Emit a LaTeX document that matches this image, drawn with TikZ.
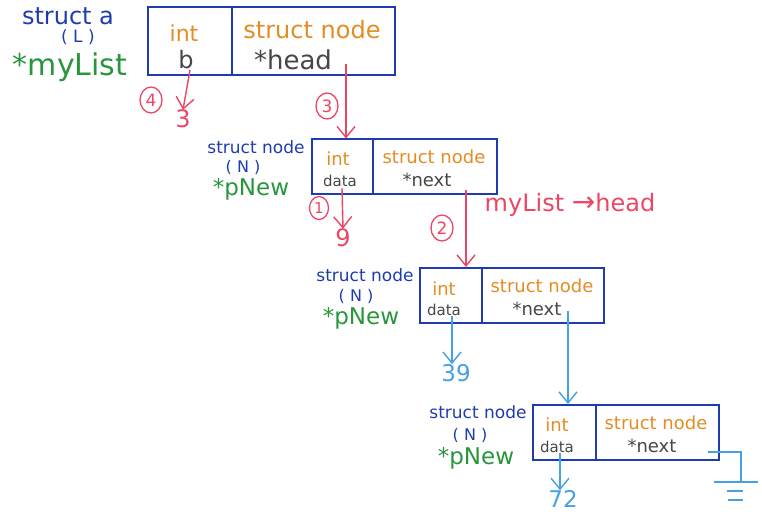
\documentclass[tikz,border=0pt]{standalone}
\usepackage{fontspec}
\setmainfont{DejaVu Sans}
\usetikzlibrary{arrows.meta,shapes.geometric}
\definecolor{boxblue}{RGB}{30,60,175}
\definecolor{typeorange}{RGB}{228,140,35}
\definecolor{namegray}{RGB}{70,70,70}
\definecolor{vargreen}{RGB}{40,150,60}
\definecolor{stepred}{RGB}{236,70,100}
\definecolor{valblue}{RGB}{70,160,230}
\tikzset{
  cell/.style={draw=boxblue, line width=2pt, inner sep=0pt},
  typetxt/.style={text=typeorange, inner sep=0pt},
  nametxt/.style={text=namegray, inner sep=0pt},
  labtxt/.style={text=boxblue, inner sep=0pt},
  vartxt/.style={text=vargreen, inner sep=0pt},
  redtxt/.style={text=stepred, inner sep=0pt},
  bluetxt/.style={text=valblue, inner sep=0pt},
  stepnum/.style={draw=stepred, text=stepred, ellipse, line width=1.3pt, inner sep=0pt, minimum width=22pt, minimum height=26pt, font=\fontsize{17}{17}\selectfont},
  redarrow/.style={draw=stepred, line width=1.4pt, -{Straight Barb[length=11pt,width=18pt]}},
  bluearrow/.style={draw=valblue, line width=1.4pt, -{Straight Barb[length=11pt,width=18pt]}},
  groundline/.style={draw=valblue, line width=1.4pt},
}
\begin{document}
\begin{tikzpicture}[x=1pt,y=-1pt]
\useasboundingbox (0,0) rectangle (762,521);
% ---------- box 1: struct a
\node[cell, minimum width=84pt, minimum height=68pt] (b1l) at (190,41) {};
\node[cell, minimum width=163pt, minimum height=68pt] (b1r) at (313.5,41) {};
\node[typetxt, font=\fontsize{22}{22}\selectfont] (t1a) at (184,33) {int};
\node[nametxt, font=\fontsize{24}{24}\selectfont] (n1a) at (186,60) {b};
\node[typetxt, font=\fontsize{24}{24}\selectfont] (t1b) at (312,30) {struct node};
\node[nametxt, font=\fontsize{26}{26}\selectfont] (n1b) at (293,60) {*head};
\node[labtxt, font=\fontsize{24}{24}\selectfont] (l1a) at (68,16) {struct a};
\node[labtxt, font=\fontsize{17}{17}\selectfont] (l1b) at (78,37) {( L )};
\node[vartxt, font=\fontsize{30}{30}\selectfont] (l1c) at (70,67) {*myList};
% ---------- box 2
\node[cell, minimum width=61pt, minimum height=55pt] (b2l) at (342.5,167) {};
\node[cell, minimum width=124pt, minimum height=55pt] (b2r) at (435,167) {};
\node[typetxt, font=\fontsize{18}{18}\selectfont] (t2a) at (338,159) {int};
\node[nametxt, font=\fontsize{15}{15}\selectfont] (n2a) at (340,181) {data};
\node[typetxt, font=\fontsize{18}{18}\selectfont] (t2b) at (434,157) {struct node};
\node[nametxt, font=\fontsize{18}{18}\selectfont] (n2b) at (427,180) {*next};
\node[labtxt, font=\fontsize{17}{17}\selectfont] (l2a) at (256,147) {struct node};
\node[labtxt, font=\fontsize{16}{16}\selectfont] (l2b) at (243,167) {( N )};
\node[vartxt, font=\fontsize{23}{23}\selectfont] (l2c) at (251,189) {*pNew};
% ---------- box 3
\node[cell, minimum width=62pt, minimum height=55pt] (b3l) at (451,295.5) {};
\node[cell, minimum width=122pt, minimum height=55pt] (b3r) at (543,295.5) {};
\node[typetxt, font=\fontsize{18}{18}\selectfont] (t3a) at (444,289) {int};
\node[nametxt, font=\fontsize{15}{15}\selectfont] (n3a) at (444,310) {data};
\node[typetxt, font=\fontsize{18}{18}\selectfont] (t3b) at (542,286) {struct node};
\node[nametxt, font=\fontsize{18}{18}\selectfont] (n3b) at (537,309) {*next};
\node[labtxt, font=\fontsize{17}{17}\selectfont] (l3a) at (365,275) {struct node};
\node[labtxt, font=\fontsize{16}{16}\selectfont] (l3b) at (356,296) {( N )};
\node[vartxt, font=\fontsize{23}{23}\selectfont] (l3c) at (361,318) {*pNew};
% ---------- box 4
\node[cell, minimum width=63pt, minimum height=55pt] (b4l) at (564.5,432.5) {};
\node[cell, minimum width=123pt, minimum height=55pt] (b4r) at (657.5,432.5) {};
\node[typetxt, font=\fontsize{18}{18}\selectfont] (t4a) at (557,425) {int};
\node[nametxt, font=\fontsize{15}{15}\selectfont] (n4a) at (557,447) {data};
\node[typetxt, font=\fontsize{18}{18}\selectfont] (t4b) at (656,423) {struct node};
\node[nametxt, font=\fontsize{18}{18}\selectfont] (n4b) at (652,446) {*next};
\node[labtxt, font=\fontsize{17}{17}\selectfont] (l4a) at (478,412) {struct node};
\node[labtxt, font=\fontsize{16}{16}\selectfont] (l4b) at (470,435) {( N )};
\node[vartxt, font=\fontsize{23}{23}\selectfont] (l4c) at (476,458) {*pNew};
% ---------- red steps
\node[stepnum] (s4) at (151,100) {4};
\node[redtxt, font=\fontsize{24}{24}\selectfont] (v3) at (183,119) {3};
\coordinate (pb) at (190,70);
\draw[redarrow] (pb) -- (v3.north);
\node[stepnum] (s3) at (327,106) {3};
\coordinate (ph) at (346,64);
\draw[redarrow] (ph) -- (ph |- b2l.north);
\node[stepnum, minimum width=19pt, minimum height=23pt, font=\fontsize{15}{15}\selectfont] (s1) at (319,208) {1};
\node[redtxt, font=\fontsize{24}{24}\selectfont] (v9) at (343,238) {9};
\coordinate (pd2) at (342,188);
\draw[redarrow] (pd2) -- (v9.north);
\node[stepnum] (s2) at (442,228) {2};
\coordinate (pn2) at (466,190);
\draw[redarrow] (pn2) -- (pn2 |- b3l.north);
\node[redtxt, font=\fontsize{24}{24}\selectfont] (ml) at (570,205) {myList {\fontsize{28}{24}\selectfont→}head};
% ---------- blue values
\node[bluetxt, font=\fontsize{23}{23}\selectfont] (v39) at (456,373) {39};
\coordinate (pd3) at (452,316);
\draw[bluearrow] (pd3) -- (pd3 |- v39.north);
\coordinate (pn3) at (568,311);
\draw[bluearrow] (pn3) -- (pn3 |- b4r.north);
\node[bluetxt, font=\fontsize{23}{23}\selectfont] (v72) at (563,499) {72};
\coordinate (pd4) at (560,453);
\draw[bluearrow] (pd4) -- (pd4 |- v72.north);
% ---------- ground
\coordinate (pn4) at (708,452);
\coordinate (g0) at (741,452);
\coordinate (g1) at (741,482);
\draw[groundline] (pn4) -- (g0) -- (g1);
\draw[groundline] ([xshift=-27pt]g1) -- ([xshift=17pt]g1);
\draw[groundline] ([xshift=-14pt,yshift=-9pt]g1) -- ([xshift=2pt,yshift=-9pt]g1);
\draw[groundline] ([xshift=-13pt,yshift=-18pt]g1) -- ([xshift=2pt,yshift=-18pt]g1);
\end{tikzpicture}
\end{document}
